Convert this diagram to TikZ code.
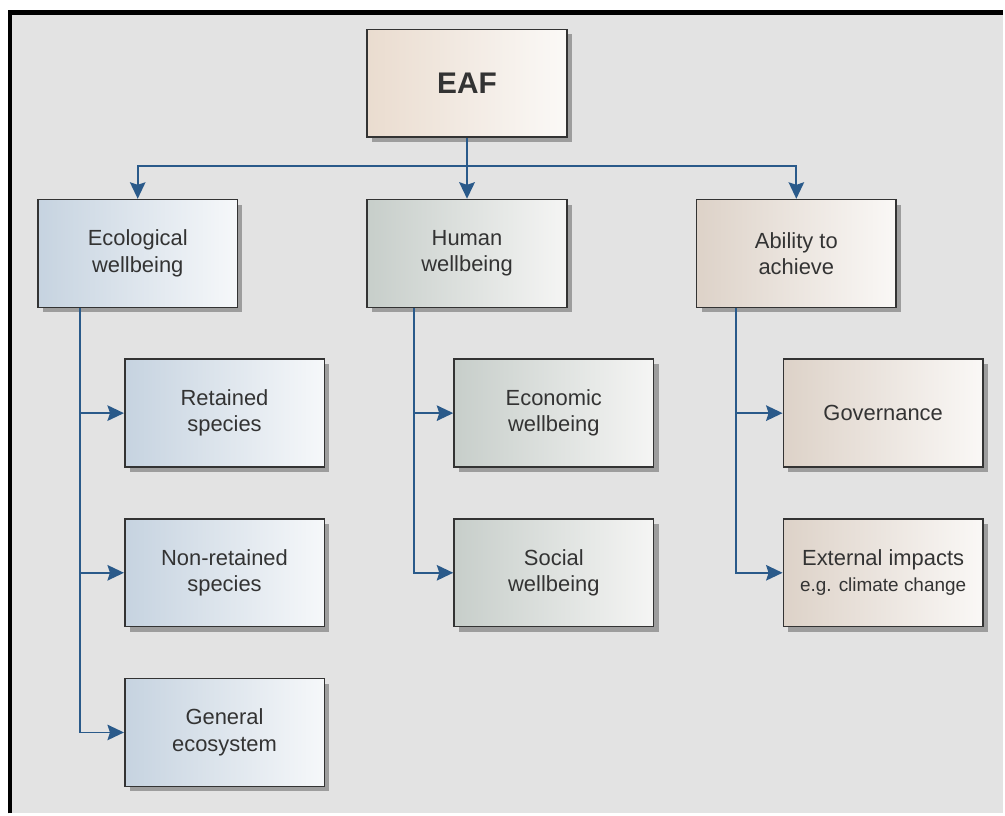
\documentclass[tikz,border=0pt]{standalone}
\usepackage{fontspec}
\setmainfont{Liberation Sans}
\usetikzlibrary{arrows.meta,shadows}
\definecolor{panel}{HTML}{E3E3E3}
\definecolor{linkblue}{HTML}{2A5A8A}
\definecolor{boxline}{HTML}{333333}
\definecolor{ecoleft}{HTML}{C6D3E0}
\definecolor{ecoright}{HTML}{F6F8FA}
\definecolor{humleft}{HTML}{C7CECA}
\definecolor{humright}{HTML}{F5F5F4}
\definecolor{ablleft}{HTML}{DDD2C8}
\definecolor{ablright}{HTML}{FAF8F6}
\definecolor{eafleft}{HTML}{EADCCF}
\definecolor{eafright}{HTML}{FBF9F7}
\begin{document}
\begin{tikzpicture}[
  box/.style={draw=boxline, line width=0.9pt, minimum width=4cm, minimum height=2.16cm,
    align=center, text=black!80, font=\fontsize{12.5}{15}\selectfont,
    drop shadow={shadow xshift=0.1cm, shadow yshift=-0.1cm, fill=black!45, opacity=0.8}},
  eco/.style={box, left color=ecoleft, right color=ecoright},
  hum/.style={box, left color=humleft, right color=humright},
  abl/.style={box, left color=ablleft, right color=ablright},
  link/.style={draw=linkblue, line width=1.1pt, -{Stealth[length=3.3mm,width=3.1mm,inset=0.5mm]}}
]
  \fill[white] (0,0) rectangle (20.1,-16.3);
  \fill[panel] (0.2,-0.25) rectangle (20.1,-16.3);
  \draw[black, line width=2.4pt] (0.2,-16.3) -- (0.2,-0.25) -- (20.1,-0.25);

  \node[box, left color=eafleft, right color=eafright, font=\fontsize{17}{20}\selectfont\bfseries] (eaf) at (9.36,-1.67) {EAF};

  \node[eco] (ecological) at (2.76,-5.08)  {Ecological\\wellbeing};
  \node[hum] (human)      at (9.36,-5.08)  {Human\\wellbeing};
  \node[abl] (ability)    at (15.96,-5.08) {Ability to\\achieve};

  \node[eco] (retained)    at (4.5,-8.28)  {Retained\\species};
  \node[eco] (nonretained) at (4.5,-11.48) {Non-retained\\species};
  \node[eco] (general)     at (4.5,-14.68) {General\\ecosystem};

  \node[hum] (economic) at (11.1,-8.28)  {Economic\\wellbeing};
  \node[hum] (social)   at (11.1,-11.48) {Social\\wellbeing};

  \node[abl] (governance) at (17.7,-8.28) {Governance};
  \node[abl] (external)   at (17.7,-11.48) {External impacts\\{\fontsize{10.8}{13}\selectfont e.g. climate change}};

  \draw[link, line width=1.5pt] (eaf) -- (human);
  \draw[link] (eaf.south) -- ++(0,-0.57) -| (ecological.north);
  \draw[link] (eaf.south) -- ++(0,-0.57) -| (ability.north);

  \draw[link] ([xshift=-1.16cm]ecological.south) |- (retained);
  \draw[link] ([xshift=-1.16cm]ecological.south) |- (nonretained);
  \draw[link] ([xshift=-1.16cm]ecological.south) |- (general);

  \draw[link] ([xshift=-1.06cm]human.south) |- (economic);
  \draw[link] ([xshift=-1.06cm]human.south) |- (social);

  \draw[link] ([xshift=-1.2cm]ability.south) |- (governance);
  \draw[link] ([xshift=-1.2cm]ability.south) |- (external);
\end{tikzpicture}
\end{document}
